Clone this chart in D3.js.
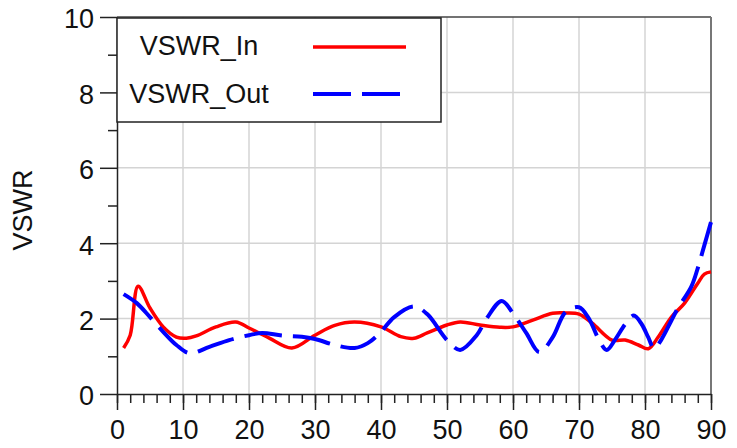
<!DOCTYPE html>
<html>
<head>
<meta charset="utf-8">
<script src="https://cdn.jsdelivr.net/npm/d3@7"></script>
<style>
body { margin: 0; background: #fff; }
text { font-family: "Liberation Sans", Arial, sans-serif; fill: #111; }
</style>
</head>
<body>
<script>
// frequency points + VSWR values
var inX = [1, 2, 3.2, 5, 7, 9, 10.5, 12, 15, 18, 20, 23, 26.5, 30, 33, 36, 40, 43, 45, 47, 50, 52, 55, 58, 60, 63, 66, 68, 70, 72, 75, 77, 79, 80.5, 82, 84, 86, 88, 89, 90];
var inY = [1.22, 1.56, 2.86, 2.28, 1.78, 1.51, 1.48, 1.54, 1.78, 1.91, 1.75, 1.49, 1.22, 1.56, 1.82, 1.91, 1.78, 1.52, 1.48, 1.62, 1.83, 1.91, 1.83, 1.77, 1.78, 1.96, 2.14, 2.15, 2.12, 1.88, 1.43, 1.43, 1.30, 1.20, 1.51, 2.04, 2.41, 2.94, 3.18, 3.24];

var outX = [1, 3, 5, 7, 9, 11, 14, 17, 20, 22, 25, 28, 30, 33, 36, 38, 40, 42, 45, 47, 50, 52, 54.5, 56, 58.3, 60, 62, 64, 66, 68, 70, 71.5, 73, 74.2, 75.5, 77, 78.3, 79.5, 80.5, 81.4, 82.5, 84, 85, 87, 88, 89, 90];
var outY = [2.65, 2.41, 2.04, 1.65, 1.30, 1.08, 1.25, 1.43, 1.56, 1.62, 1.55, 1.52, 1.46, 1.30, 1.22, 1.35, 1.65, 2.04, 2.32, 2.12, 1.43, 1.17, 1.56, 2.0, 2.47, 2.14, 1.62, 1.11, 1.5, 2.18, 2.30, 2.0, 1.45, 1.17, 1.45, 1.85, 2.08, 1.85, 1.5, 1.2, 1.45, 1.95, 2.28, 2.84, 3.34, 3.95, 4.56];

var xTicks = [0, 10, 20, 30, 40, 50, 60, 70, 80, 90];
var yTicks = [0, 2, 4, 6, 8, 10];
var legendNames = ['VSWR_In', 'VSWR_Out'];

var W = 737, H = 448;
var pL = 117, pR = 711, pT = 17, pB = 394;
var fs = 27;

var svg = d3.select('body').append('svg').attr('width', W).attr('height', H);

var x = d3.scaleLinear().domain([0, 90]).range([pL, pR]);
var y = d3.scaleLinear().domain([0, 10]).range([pB, pT]);

// grid
svg.append('g').selectAll('line')
  .data(xTicks.slice(1, -1))
  .enter().append('line')
  .attr('x1', x).attr('x2', x)
  .attr('y1', pT).attr('y2', pB)
  .attr('stroke', '#d4d4d4').attr('stroke-width', 1.5);
svg.append('g').selectAll('line')
  .data(yTicks.slice(1, -1))
  .enter().append('line')
  .attr('y1', y).attr('y2', y)
  .attr('x1', pL).attr('x2', pR)
  .attr('stroke', '#d4d4d4').attr('stroke-width', 1.5);

// frame top / right
svg.append('line').attr('x1', pL).attr('x2', pR).attr('y1', pT).attr('y2', pT)
  .attr('stroke', '#444').attr('stroke-width', 1.5);
svg.append('line').attr('x1', pR).attr('x2', pR).attr('y1', pT).attr('y2', pB)
  .attr('stroke', '#777').attr('stroke-width', 2);

// minor ticks
svg.append('g').attr('transform', 'translate(0,' + pB + ')')
  .call(d3.axisBottom(x).tickValues(d3.range(0, 91, 2)).tickSize(9).tickFormat(''))
  .call(function(g) { g.select('.domain').remove(); g.selectAll('line').attr('stroke', '#222').attr('stroke-width', 1.5); });
svg.append('g').attr('transform', 'translate(' + pL + ',0)')
  .call(d3.axisLeft(y).tickValues(d3.range(1, 10, 2)).tickSize(9).tickFormat(''))
  .call(function(g) { g.select('.domain').remove(); g.selectAll('line').attr('stroke', '#222').attr('stroke-width', 1.5); });

// major axes
var xa = svg.append('g').attr('transform', 'translate(0,' + pB + ')')
  .call(d3.axisBottom(x).tickValues(xTicks).tickSize(16).tickSizeOuter(0).tickPadding(10));
var ya = svg.append('g').attr('transform', 'translate(' + pL + ',0)')
  .call(d3.axisLeft(y).tickValues(yTicks).tickSize(17).tickSizeOuter(0).tickPadding(6));
[xa, ya].forEach(function(g) {
  g.select('.domain').attr('stroke', '#222').attr('stroke-width', 1.5);
  g.selectAll('line').attr('stroke', '#222').attr('stroke-width', 1.5);
  g.selectAll('text').attr('font-size', fs).attr('font-family', '"Liberation Sans", Arial, sans-serif').attr('fill', '#111');
});
ya.selectAll('text').attr('dy', '0.4em');

svg.append('text')
  .attr('transform', 'translate(32,' + 210 + ') rotate(-90)')
  .attr('text-anchor', 'middle')
  .attr('font-size', fs)
  .text('VSWR');

// curves
var line = d3.line().curve(d3.curveCatmullRom.alpha(0.5))
  .x(function(d) { return x(d[0]); })
  .y(function(d) { return y(d[1]); });

svg.append('path')
  .datum(d3.zip(inX, inY))
  .attr('d', line)
  .attr('fill', 'none').attr('stroke', '#ff0000').attr('stroke-width', 3.5);

svg.append('path')
  .datum(d3.zip(outX, outY))
  .attr('d', line)
  .attr('fill', 'none').attr('stroke', '#0000ff').attr('stroke-width', 4)
  .attr('stroke-dasharray', '38,11');

// legend
var lg = svg.append('g');
lg.append('rect')
  .attr('x', pL).attr('y', pT + 1).attr('width', 441 - pL).attr('height', 122 - pT - 1)
  .attr('fill', '#fff').attr('stroke', '#222').attr('stroke-width', 1.5);
lg.selectAll('text')
  .data(legendNames)
  .enter().append('text')
  .attr('x', 199)
  .attr('y', function(d, i) { return 55 + i * 48; })
  .attr('text-anchor', 'middle')
  .attr('font-size', fs)
  .text(function(d) { return d; });
lg.append('line').attr('x1', 313).attr('x2', 406).attr('y1', 47).attr('y2', 47)
  .attr('stroke', '#ff0000').attr('stroke-width', 3.5);
lg.append('line').attr('x1', 313).attr('x2', 400).attr('y1', 94).attr('y2', 94)
  .attr('stroke', '#0000ff').attr('stroke-width', 4).attr('stroke-dasharray', '38,11');
</script>
</body>
</html>
